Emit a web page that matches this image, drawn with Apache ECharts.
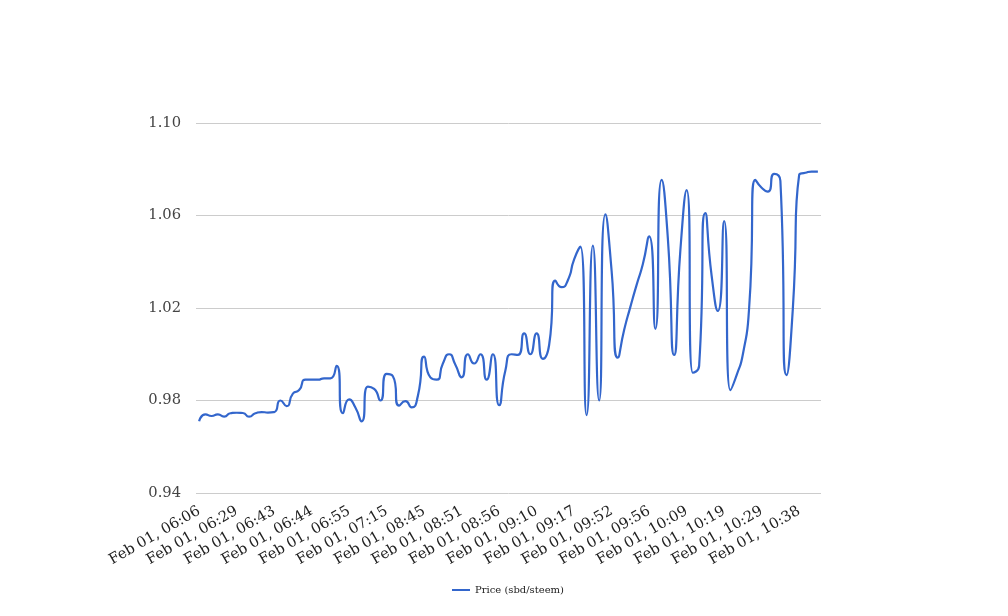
<!DOCTYPE html>
<html>
<head>
<meta charset="utf-8">
<script src="https://cdn.jsdelivr.net/npm/echarts@6/dist/echarts.min.js"></script>
<style>html,body{margin:0;padding:0;background:#fff}#chart{width:1008px;height:616px}</style>
</head>
<body>
<div id="chart"></div>
<script>
// Visible tick labels (every 6th category)
const tickLabels = ['Feb 01, 06:06','Feb 01, 06:29','Feb 01, 06:43','Feb 01, 06:44','Feb 01, 06:55','Feb 01, 07:15','Feb 01, 08:45','Feb 01, 08:51','Feb 01, 08:56','Feb 01, 09:10','Feb 01, 09:17','Feb 01, 09:52','Feb 01, 09:56','Feb 01, 10:09','Feb 01, 10:19','Feb 01, 10:29','Feb 01, 10:38'];
const labelStep = 6;
const seriesName = 'Price (sbd/steem)';
const priceValues = [
 0.971,0.974,0.9733,0.974,0.973,0.9745,0.9747,0.9746,0.973,0.9745,
 0.975,0.9748,0.975,0.980,0.9776,0.983,0.9845,0.989,0.989,0.989,
 0.9896,0.9896,0.995,0.9745,0.9805,0.977,0.971,0.986,0.985,0.980,
 0.9915,0.9905,0.9778,0.9797,0.977,0.982,0.999,0.990,0.989,0.996,
 1.000,0.9955,0.990,1.000,0.996,1.000,0.989,1.000,0.978,0.993,
 1.000,0.9997,1.009,1.000,1.009,0.998,1.004,1.0318,1.029,1.032,
 1.041,1.0465,0.9737,1.047,0.980,1.0605,1.036,0.9985,1.0105,1.0205,
 1.030,1.039,1.051,1.011,1.0754,1.050,0.9997,1.045,1.071,0.992,
 0.995,1.061,1.034,1.0187,1.0576,0.9845,0.991,1.000,1.020,1.0754,
 1.072,1.0703,1.078,1.075,0.991,1.020,1.0775,1.0785,1.079,1.079
];
const yTicks = {min: 0.94, max: 1.10, step: 0.04};

// category names: known labels at every 6th slot, unknown ones blank
const categories = priceValues.map((v, i) => (i % labelStep === 0 && tickLabels[i / labelStep]) ? tickLabels[i / labelStep] : '');

const chart = echarts.init(document.getElementById('chart'), null, {renderer: 'canvas'});
const fontFamily = '"DejaVu Serif", serif';
chart.setOption({
  animation: false,
  backgroundColor: '#ffffff',
  grid: {left: 196, right: 187, top: 123, bottom: 123, containLabel: false},
  xAxis: {
    type: 'category',
    data: categories,
    boundaryGap: true,
    axisLine: {show: false},
    axisTick: {show: false},
    splitLine: {show: false},
    axisLabel: {
      interval: labelStep - 1,
      rotate: 30,
      margin: 17,
      color: '#222222',
      fontFamily: fontFamily,
      fontSize: 14.7
    }
  },
  yAxis: {
    type: 'value',
    min: yTicks.min,
    max: yTicks.max,
    interval: yTicks.step,
    axisLine: {show: false},
    axisTick: {show: false},
    splitLine: {lineStyle: {color: '#cccccc', width: 1}},
    axisLabel: {
      margin: 15,
      color: '#444444',
      fontFamily: fontFamily,
      fontSize: 14.7,
      formatter: v => v.toFixed(2)
    }
  },
  legend: {
    bottom: 16,
    left: 447,
    icon: 'rect',
    itemWidth: 18,
    itemHeight: 2,
    itemGap: 5,
    textStyle: {fontFamily: fontFamily, fontSize: 10, color: '#222222'},
    data: [seriesName]
  },
  series: [{
    name: seriesName,
    type: 'line',
    data: priceValues,
    smooth: 0.65,
    symbol: 'none',
    lineStyle: {color: '#3366cc', width: 2.2},
    itemStyle: {color: '#3366cc'}
  }]
});
</script>
</body>
</html>
